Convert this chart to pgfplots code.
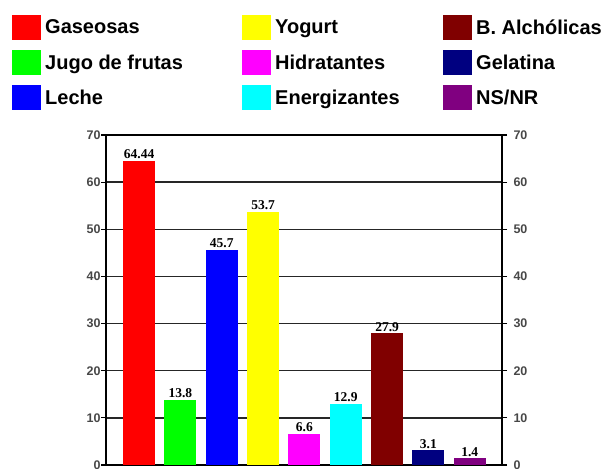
\documentclass[border=0pt]{standalone}
\usepackage{pgfplots}
\pgfplotsset{compat=1.18}
\usepackage{fontspec}
\setmainfont{Liberation Sans}
\newfontfamily\lblfont{Liberation Serif}
\definecolor{cRed}{HTML}{FF0000}
\definecolor{cGreen}{HTML}{00FF00}
\definecolor{cBlue}{HTML}{0000FF}
\definecolor{cYellow}{HTML}{FFFF00}
\definecolor{cMag}{HTML}{FF00FF}
\definecolor{cCyan}{HTML}{00FFFF}
\definecolor{cMaroon}{HTML}{800000}
\definecolor{cNavy}{HTML}{000080}
\definecolor{cPurple}{HTML}{800080}
\begin{document}
\begin{tikzpicture}
\path[use as bounding box] (0,0) rectangle (604pt,-468pt);
\begin{axis}[
  at={(106pt,-465pt)}, anchor=south west,
  scale only axis, width=396pt, height=330pt,
  xmin=0.2, xmax=9.78, ymin=0, ymax=70,
  xtick=\empty, ytick={0,10,...,70}, ytick pos=left,
  tick align=outside, major tick length=5pt,
  ymajorgrids, grid style={black!85, line width=1.3pt},
  axis line style={black, line width=1.6pt},
  every tick/.style={black, line width=1.2pt},
  yticklabel style={font=\bfseries\fontsize{12.5}{13}\selectfont, text=black!72, xshift=3pt},
  /pgf/number format/assume math mode=true,
  ybar, bar shift=0pt, bar width=32pt,
  point meta=explicit symbolic,
  nodes near coords,
  nodes near coords style={font=\lblfont\bfseries\fontsize{13.5}{14}\selectfont, text=black, inner sep=2pt, anchor=south},
  legend cell align=left,
  transpose legend, legend columns=3,
  legend style={at={(-0.2374,1.3636)}, anchor=north west, draw=none, fill=none, inner sep=0pt, row sep=10pt,
    font=\bfseries\fontsize{20}{22}\selectfont,
    nodes={inner sep=0pt}},
  legend image code/.code={\fill[#1, draw=none] (0pt,-12.5pt) rectangle (29pt,12.5pt);},
]
\addplot[fill=cRed, draw=none] coordinates {(1,64.44) [64.44]};
\addlegendentry{\makebox[201pt][l]{\hspace*{4pt}Gaseosas}}
\addplot[fill=cGreen, draw=none] coordinates {(2,13.8) [13.8]};
\addlegendentry{\hspace*{4pt}Jugo de frutas}
\addplot[fill=cBlue, draw=none] coordinates {(3,45.7) [45.7]};
\addlegendentry{\hspace*{4pt}Leche}
\addplot[fill=cYellow, draw=none] coordinates {(4,53.7) [53.7]};
\addlegendentry{\makebox[172pt][l]{\hspace*{4pt}Yogurt}}
\addplot[fill=cMag, draw=none] coordinates {(5,6.6) [6.6]};
\addlegendentry{\hspace*{4pt}Hidratantes}
\addplot[fill=cCyan, draw=none] coordinates {(6,12.9) [12.9]};
\addlegendentry{\hspace*{4pt}Energizantes}
\addplot[fill=cMaroon, draw=none] coordinates {(7,27.9) [27.9]};
\addlegendentry{\hspace*{4pt}B. Alchólicas}
\addplot[fill=cNavy, draw=none] coordinates {(8,3.1) [3.1]};
\addlegendentry{\hspace*{4pt}Gelatina}
\addplot[fill=cPurple, draw=none] coordinates {(9,1.4) [1.4]};
\addlegendentry{\hspace*{4pt}NS/NR}
\end{axis}
\begin{axis}[
  at={(106pt,-465pt)}, anchor=south west,
  scale only axis, width=396pt, height=330pt,
  xmin=0.2, xmax=9.78, ymin=0, ymax=70,
  hide x axis, axis y line*=right,
  ytick={0,10,...,70},
  tick align=outside, major tick length=5pt,
  axis line style={black, line width=1.6pt, -},
  every tick/.style={black, line width=1.2pt},
  yticklabel style={font=\bfseries\fontsize{12.5}{13}\selectfont, text=black!72, xshift=3pt},
  /pgf/number format/assume math mode=true,
]
\end{axis}
\end{tikzpicture}
\end{document}
